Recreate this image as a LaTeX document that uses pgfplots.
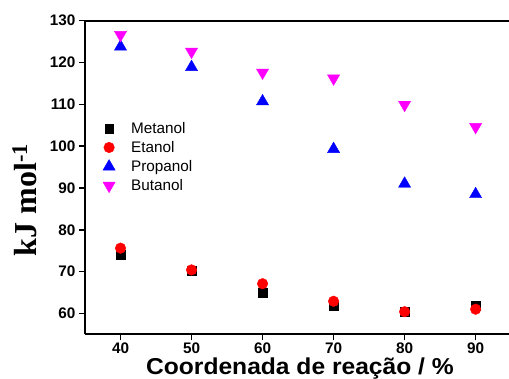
\documentclass[border=0pt]{standalone}
\usepackage{pgfplots}
\pgfplotsset{compat=1.18}
\usepackage{fontspec}
\setmainfont{Liberation Sans}
\newfontfamily\serifb{Liberation Serif}
\definecolor{cmag}{RGB}{255,0,255}
\begin{document}
\begin{tikzpicture}
\useasboundingbox (-85pt,-44.7pt) rectangle (424pt,334.3pt);
\begin{axis}[
  at={(0,0)}, anchor=south west,
  scale only axis, width=424pt, height=313.6pt,
  xmin=35, xmax=94.7, ymin=55, ymax=130,
  axis x line=box, axis y line=left,
  axis line style={-, line width=2pt},
  xtick pos=bottom, ytick pos=left,
  xtick={40,50,60,70,80,90}, ytick={60,70,80,90,100,110,120,130},
  tick align=outside, major tick length=6pt,
  every tick/.style={black, line width=1.5pt},
  minor tick num=0,
  /pgf/number format/assume math mode=true,
  tick label style={font=\fontsize{15.3}{18}\selectfont\bfseries},
  xticklabel style={inner sep=0.5pt, yshift=-1.5pt},
  xlabel={\scalebox{1.07}[1]{Coordenada de reação / \%}},
  ylabel={\serifb\bfseries kJ mol\textsuperscript{-1}},
  every axis x label/.style={at={(axis description cs:0.507,-0.129)}, anchor=base, inner sep=0pt, font=\fontsize{23}{26}\selectfont\bfseries},
  every axis y label/.style={at={(axis description cs:-0.1427,0.428)}, rotate=90, anchor=center, font=\fontsize{32}{36}\selectfont},
  legend style={draw=none, fill=none, at={(axis description cs:0.035,0.69)}, anchor=north west,
    font=\fontsize{15.3}{18}\selectfont, row sep=2.5pt, column sep=14pt},
  legend cell align=left,
]
\addplot[only marks, mark=square*, mark size=4.4pt, color=black] coordinates {
 (40,74.1) (50,70.3) (60,65.0) (70,61.7) (80,60.4) (90,61.8)};
\addlegendentry{Metanol}
\addplot[only marks, mark=*, mark size=5.3pt, color=red] coordinates {
 (40,75.6) (50,70.4) (60,67.1) (70,62.9) (80,60.4) (90,61.0)};
\addlegendentry{Etanol}
\addplot[only marks, mark=triangle*, mark size=7pt, color=blue] coordinates {
 (40,123.8) (50,118.9) (60,110.7) (70,99.3) (80,91.0) (90,88.5)};
\addlegendentry{Propanol}
\addplot[only marks, mark=triangle*, mark size=7pt, color=cmag, mark options={rotate=180}] coordinates {
 (40,126.6) (50,122.6) (60,117.6) (70,116.2) (80,109.9) (90,104.6)};
\addlegendentry{Butanol}
\end{axis}
\end{tikzpicture}
\end{document}
